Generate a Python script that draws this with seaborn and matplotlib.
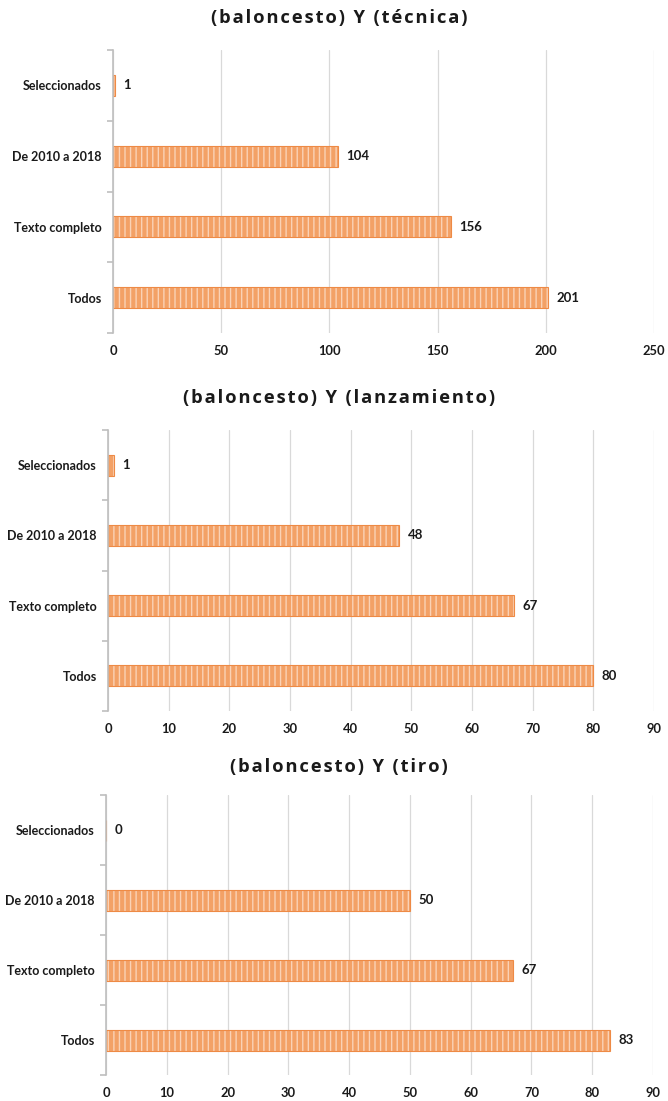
import matplotlib
matplotlib.use("Agg")
import matplotlib.pyplot as plt
import seaborn as sns
import pandas as pd
from matplotlib.patches import Rectangle
from matplotlib.ticker import MultipleLocator, FixedLocator

categories = ["Seleccionados", "De 2010 a 2018", "Texto completo", "Todos"]
tecnica = [1, 104, 156, 201]
lanzamiento = [1, 48, 67, 80]
tiro = [0, 50, 67, 83]
titles = ["(baloncesto) Y (técnica)", "(baloncesto) Y (lanzamiento)", "(baloncesto) Y (tiro)"]

sns.set_theme(style="white")
plt.rcParams["font.family"] = ["Lato", "DejaVu Sans"]

fig = plt.figure(figsize=(6.68, 11.01), dpi=100)
H = 1101.0
W = 668.0
panels = [
    dict(vals=tecnica, left=113, right=654, top=50, bottom=333, xmax=250, step=50, ty=18),
    dict(vals=lanzamiento, left=108, right=654, top=430, bottom=711, xmax=90, step=10, ty=398),
    dict(vals=tiro, left=106, right=653, top=795, bottom=1075, xmax=90, step=10, ty=767),
]

fill = "#F3A166"
stripe = "#FAD2B6"
border = "#EE8A45"

for p, title in zip(panels, titles):
    ax = fig.add_axes([p["left"] / W, 1 - p["bottom"] / H,
                       (p["right"] - p["left"]) / W, (p["bottom"] - p["top"]) / H])
    df = pd.DataFrame({"cat": categories, "val": p["vals"]})
    sns.barplot(data=df, x="val", y="cat", orient="h", ax=ax, color=fill,
                width=0.3, saturation=1, edgecolor=stripe, linewidth=0.0)
    for bar in list(ax.patches):
        bar.set_hatch("|||")
        bar.set_edgecolor(stripe)
        bar.set_linewidth(0)
        ax.add_patch(Rectangle(bar.get_xy(), bar.get_width(), bar.get_height(),
                               fill=False, edgecolor=border, linewidth=0.8, zorder=3))
    ax.bar_label(ax.containers[0], labels=[str(v) for v in p["vals"]], padding=6,
                 fontsize=9.5, fontweight="bold", color="#1a1a1a")
    ax.set_xlim(0, p["xmax"])
    ax.set_ylim(3.5, -0.5)
    ax.xaxis.set_major_locator(MultipleLocator(p["step"]))
    ax.grid(axis="x", color="#D9D9D9", linewidth=0.9)
    ax.set_axisbelow(True)
    for s in ["top", "right", "bottom"]:
        ax.spines[s].set_visible(False)
    ax.spines["left"].set_color("#BFBFBF")
    ax.spines["left"].set_linewidth(1.2)
    ax.spines["left"].set_zorder(4)
    ax.set_xlabel("")
    ax.set_ylabel("")
    ax.tick_params(axis="x", length=0, pad=8.5, labelsize=9.3, labelcolor="#1a1a1a")
    ax.tick_params(axis="y", which="major", length=0, pad=8, labelsize=9.0, labelcolor="#1a1a1a")
    ax.yaxis.set_minor_locator(FixedLocator([-0.5, 0.5, 1.5, 2.5, 3.5]))
    ax.tick_params(axis="y", which="minor", length=4, width=1.2, color="#BFBFBF", left=True)
    for lab in ax.get_xticklabels() + ax.get_yticklabels():
        lab.set_fontweight("bold")
    fig.text(0.5075, 1 - p["ty"] / H, "\u200a".join(title), ha="center", va="center",
             fontsize=13.2, fontweight="bold", color="#1a1a1a",
             family=["Open Sans", "DejaVu Sans"])

fig.savefig("out.png", dpi=100)
